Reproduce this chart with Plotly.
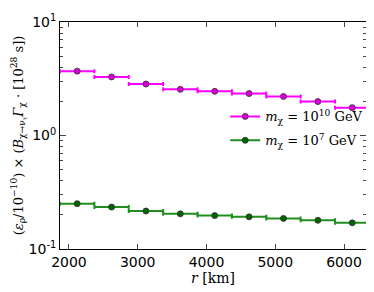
import plotly.graph_objects as go

r_centers = [2120, 2620, 3120, 3620, 4120, 4620, 5120, 5620, 6120]
bin_halfwidth = 250
heavy = [3.69, 3.28, 2.84, 2.55, 2.45, 2.34, 2.21, 1.99, 1.76]
light = [0.251, 0.234, 0.216, 0.204, 0.197, 0.192, 0.186, 0.179, 0.170]
labels = ["<i>m</i><sub>χ</sub> = 10<sup>10</sup> GeV", "<i>m</i><sub>χ</sub> = 10<sup>7</sup> GeV"]

fig = go.Figure()
series = [(heavy, "#ff00ff", "#dd00dd", labels[0]), (light, "#1f8f1f", "#006400", labels[1])]
for vals, lc, mc, name in series:
    fig.add_trace(go.Scatter(
        x=r_centers, y=vals, mode="markers", showlegend=False,
        marker=dict(size=6, color=mc, line=dict(color="#303030", width=0.8)),
        error_x=dict(type="constant", value=bin_halfwidth, color=lc, thickness=2, width=2),
    ))
for i, (vals, lc, mc, name) in enumerate(series):
    fig.add_trace(go.Scatter(
        x=[None], y=[None], mode="lines+markers", name=name, legendgroup=f"g{i}",
        line=dict(color=lc, width=2),
        marker=dict(size=6, color=mc, line=dict(color="#303030", width=0.8)),
    ))

# page body has an 8px default margin, so the figure is 8px smaller and margins compensate
fig.update_layout(
    width=366, height=284,
    margin=dict(l=52, r=8, t=4, b=43),
    plot_bgcolor="white", paper_bgcolor="white",
    font=dict(family="DejaVu Sans", size=14, color="black"),
    legend=dict(x=0.54, y=0.65, xanchor="left", yanchor="top", bgcolor="rgba(0,0,0,0)",
                font=dict(family="DejaVu Serif", size=13), itemwidth=30, tracegroupgap=4),
)
fig.update_xaxes(
    range=[1870, 6320], tickvals=[2000, 3000, 4000, 5000, 6000],
    ticks="inside", ticklen=5, mirror="allticks", showline=True, linecolor="black", linewidth=1,
    showgrid=False, zeroline=False, tickfont=dict(size=14),
    title=dict(text="<i>r</i> [km]", font=dict(family="DejaVu Serif", size=14), standoff=4),
)
fig.update_yaxes(
    type="log", range=[-1, 1], tickvals=[0.1, 1, 10],
    ticktext=["10<sup>-1</sup>", "10<sup>0</sup>", "10<sup>1</sup>"],
    ticks="inside", ticklen=6, mirror="allticks", showline=True, linecolor="black", linewidth=1,
    showgrid=False, zeroline=False, tickfont=dict(size=14), ticklabeloverflow="allow",
    minor=dict(ticks="inside", ticklen=3, tickvals=[0.2,0.3,0.4,0.5,0.6,0.7,0.8,0.9,2,3,4,5,6,7,8,9], showgrid=False),
    title=dict(text="(<i>ε</i><sub>ρ</sub>/10<sup>−10</sup>) × (<i>B</i><sub>χ→ν<sub>τ</sub></sub><i>Γ</i><sub>χ</sub> · [10<sup>28</sup> s])",
               font=dict(family="DejaVu Serif", size=13), standoff=2),
)
fig.write_html("out.html")
